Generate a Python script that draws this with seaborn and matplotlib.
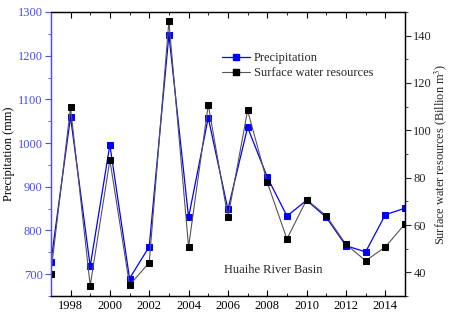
import matplotlib
matplotlib.use('Agg')

import pandas as pd
import seaborn as sns
from matplotlib import pyplot as plt
from matplotlib.ticker import MultipleLocator
from matplotlib.lines import Line2D

years = list(range(1997, 2016))
precip = [727, 1060, 718, 996, 690, 763, 1248, 830, 1058, 848,
          1036, 922, 833, 869, 830, 765, 751, 836, 851]
surface = [39.5, 109.7, 34.4, 87.4, 34.6, 44.1, 146.0, 50.8, 110.8, 63.2,
           108.4, 78.0, 54.1, 70.7, 63.9, 51.8, 44.9, 50.7, 60.5]

db = pd.DataFrame({'year': years, 'precip': precip, 'surface': surface})

sns.set_style('ticks')
plt.rcParams['font.family'] = ['Liberation Serif', 'DejaVu Serif']
plt.rcParams['mathtext.fontset'] = 'stix'

BLUE = '#0000ff'
AXBLUE = '#4b4bff'

fig = plt.figure(figsize=(4.5, 3.2), dpi=100)
ax = fig.add_axes([0.113, 0.075, 0.787, 0.8875])
ax2 = ax.twinx()

# Precipitation on the left axis
sns.lineplot(data=db, x='year', y='precip', ax=ax, color=BLUE, marker='s',
             markersize=4.5, markeredgecolor=BLUE, linewidth=0.9)
# Surface water resources on the right axis
sns.lineplot(data=db, x='year', y='surface', ax=ax2, color='#555555', marker='s',
             markersize=4.5, markerfacecolor='black', markeredgecolor='black',
             linewidth=0.8)

ax.set_xlim(1997, 2015)
ax.set_ylim(650, 1300)
ax2.set_ylim(30, 150)

ax.xaxis.set_minor_locator(MultipleLocator(1))
ax.set_xticks(range(1998, 2015, 2))
ax.yaxis.set_major_locator(MultipleLocator(100))
ax.yaxis.set_minor_locator(MultipleLocator(50))
ax2.yaxis.set_minor_locator(MultipleLocator(10))
ax2.set_yticks([40, 60, 80, 100, 120, 140])

ax.tick_params(axis='x', which='both', direction='in', top=True, labelsize=9,
               colors='black', pad=3)
ax.tick_params(axis='x', which='major', length=4)
ax.tick_params(axis='x', which='minor', length=2.5)
ax.tick_params(axis='y', which='both', direction='out', colors=AXBLUE,
               labelsize=9, pad=2)
ax.tick_params(axis='y', which='major', length=4)
ax.tick_params(axis='y', which='minor', length=2.5)
ax2.tick_params(axis='y', which='both', direction='out', labelsize=9, pad=2)
ax2.tick_params(axis='y', which='major', length=4)
ax2.tick_params(axis='y', which='minor', length=2.5)

for a in (ax, ax2):
    for s in a.spines.values():
        s.set_linewidth(0.9)
        s.set_color('black')
ax2.spines['left'].set_color(AXBLUE)
ax.spines['left'].set_color(AXBLUE)

ax.set_xlabel('')
ax.set_ylabel('Precipitation (mm)', fontsize=9, color='black', labelpad=2)
ax2.set_ylabel('Surface water resources (Billion m$^3$)', fontsize=8.8,
               labelpad=0)

handles = [
    Line2D([], [], color=BLUE, marker='s', markersize=4.5, linewidth=0.9),
    Line2D([], [], color='#555555', marker='s', markersize=4.5,
           markerfacecolor='black', markeredgecolor='black', linewidth=0.8),
]
ax.legend(handles, ['Precipitation', 'Surface water resources'],
          loc='upper left', bbox_to_anchor=(0.47, 0.875), frameon=False,
          fontsize=9, handlelength=2.2, handletextpad=0.3, labelspacing=0.2,
          borderaxespad=0)

ax.text(0.49, 0.09, 'Huaihe River Basin', transform=ax.transAxes,
        fontsize=9, ha='left', va='center')

plt.savefig('out.png', dpi=100)
